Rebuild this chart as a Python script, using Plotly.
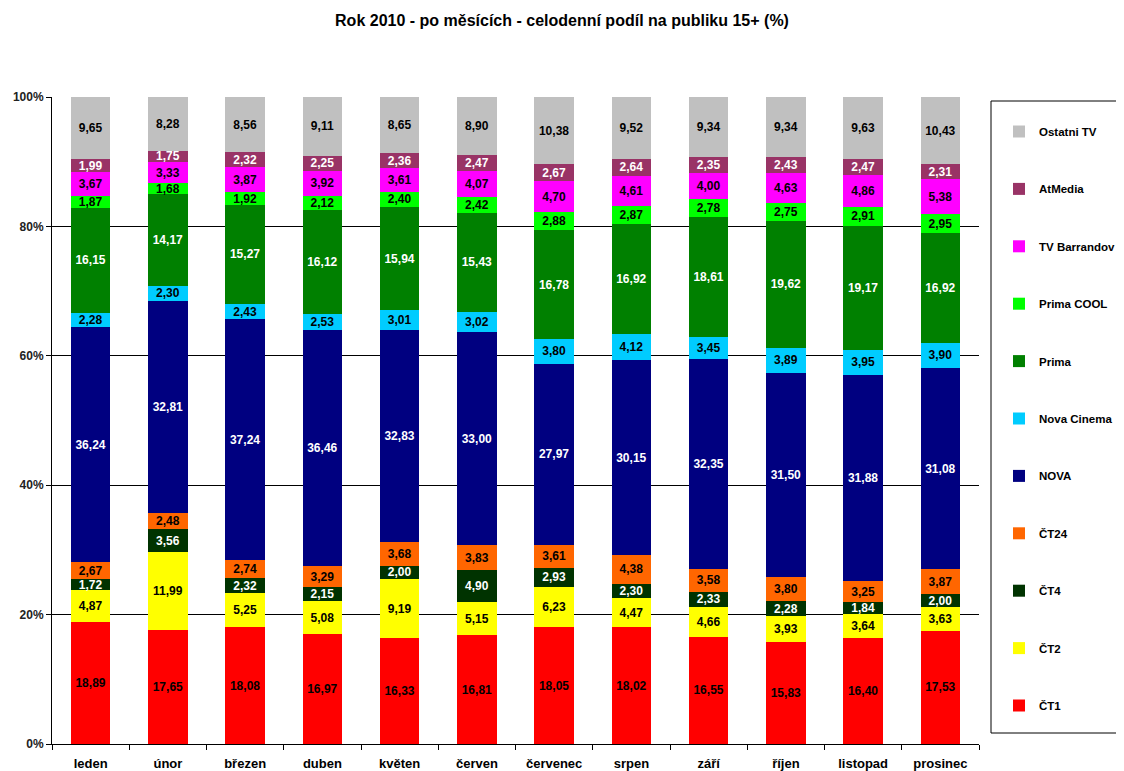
import plotly.graph_objects as go

months = ["leden", "únor", "březen", "duben", "květen", "červen", "červenec",
          "srpen", "září", "říjen", "listopad", "prosinec"]

ct1 = [18.89, 17.65, 18.08, 16.97, 16.33, 16.81, 18.05, 18.02, 16.55, 15.83, 16.40, 17.53]
ct2 = [4.87, 11.99, 5.25, 5.08, 9.19, 5.15, 6.23, 4.47, 4.66, 3.93, 3.64, 3.63]
ct4 = [1.72, 3.56, 2.32, 2.15, 2.00, 4.90, 2.93, 2.30, 2.33, 2.28, 1.84, 2.00]
ct24 = [2.67, 2.48, 2.74, 3.29, 3.68, 3.83, 3.61, 4.38, 3.58, 3.80, 3.25, 3.87]
nova = [36.24, 32.81, 37.24, 36.46, 32.83, 33.00, 27.97, 30.15, 32.35, 31.50, 31.88, 31.08]
nova_cinema = [2.28, 2.30, 2.43, 2.53, 3.01, 3.02, 3.80, 4.12, 3.45, 3.89, 3.95, 3.90]
prima = [16.15, 14.17, 15.27, 16.12, 15.94, 15.43, 16.78, 16.92, 18.61, 19.62, 19.17, 16.92]
prima_cool = [1.87, 1.68, 1.92, 2.12, 2.40, 2.42, 2.88, 2.87, 2.78, 2.75, 2.91, 2.95]
barrandov = [3.67, 3.33, 3.87, 3.92, 3.61, 4.07, 4.70, 4.61, 4.00, 4.63, 4.86, 5.38]
atmedia = [1.99, 1.75, 2.32, 2.25, 2.36, 2.47, 2.67, 2.64, 2.35, 2.43, 2.47, 2.31]
ostatni = [9.65, 8.28, 8.56, 9.11, 8.65, 8.90, 10.38, 9.52, 9.34, 9.34, 9.63, 10.43]

series = [
    ("ČT1", ct1, "#FF0000", "black"),
    ("ČT2", ct2, "#FFFF00", "black"),
    ("ČT4", ct4, "#003300", "white"),
    ("ČT24", ct24, "#FF6600", "black"),
    ("NOVA", nova, "#000080", "white"),
    ("Nova Cinema", nova_cinema, "#00CCFF", "black"),
    ("Prima", prima, "#008000", "white"),
    ("Prima COOL", prima_cool, "#00FF00", "black"),
    ("TV Barrandov", barrandov, "#FF00FF", "black"),
    ("AtMedia", atmedia, "#993366", "white"),
    ("Ostatni TV", ostatni, "#C0C0C0", "black"),
]

FONT = "Liberation Sans, Arial, sans-serif"

# layout geometry (figure pixels; page adds an 8px body margin)
W, H = 1124, 771
L, R, T, B = 44, 153, 89, 35
PW, PH = W - L - R, H - T - B

def px_x(x):
    return (x - L) / PW

def px_y(y):
    return (H - B - y) / PH

fig = go.Figure()
n = len(series)
for i, (name, vals, color, tcolor) in enumerate(series):
    fig.add_trace(go.Bar(
        x=months, y=vals, name=name, legendgroup=name, legendrank=n - i,
        marker=dict(color=color, line=dict(width=0)),
        text=[f"{v:.2f}".replace(".", ",") for v in vals],
        textposition="inside", insidetextanchor="middle", textangle=0,
        constraintext="none",
        textfont=dict(family=FONT, size=12, color=tcolor, weight="bold"),
        hoverinfo="skip",
    ))

# legend frame: open on the right (it runs off the page in the original)
bx0, bx1 = px_x(983), px_x(1200)
by0, by1 = px_y(725), px_y(93)
frame_path = f"M {bx1} {by1} L {bx0} {by1} L {bx0} {by0} L {bx1} {by0}"

fig.update_layout(
    barmode="stack", barnorm="percent", bargap=0.49,
    width=W, height=H,
    paper_bgcolor="white", plot_bgcolor="white",
    margin=dict(l=L, r=R, t=T, b=B, autoexpand=False),
    title=dict(text="<b>Rok 2010 - po měsících - celodenní podíl na publiku 15+ (%)</b>",
               x=554 / W, xref="container", xanchor="center",
               y=1 - 12 / H, yref="container", yanchor="middle",
               font=dict(family=FONT, size=16, color="black")),
    font=dict(family=FONT, color="black"),
    showlegend=True,
    legend=dict(
        x=px_x(991), xanchor="left", y=px_y(109), yanchor="top",
        traceorder="grouped", tracegroupgap=38.4,
        borderwidth=0, bgcolor="rgba(0,0,0,0)",
        font=dict(family=FONT, size=11.5, color="black", weight="bold"),
        itemwidth=30,
    ),
    shapes=[dict(type="path", xref="paper", yref="paper", path=frame_path,
                 line=dict(color="black", width=1))],
)

fig.update_yaxes(
    range=[0, 100], tickvals=[0, 20, 40, 60, 80, 100],
    ticktext=["0%", "20%", "40%", "60%", "80%", "100%"],
    showgrid=True, gridcolor="black", gridwidth=1,
    showline=True, linecolor="black", linewidth=1,
    ticks="outside", ticklen=5, tickcolor="black",
    tickfont=dict(family=FONT, size=12, color="#222", weight="bold"),
    zeroline=False, automargin=False,
)
fig.update_xaxes(
    showline=True, linecolor="black", linewidth=1,
    ticks="outside", ticklen=5, tickcolor="black", tickson="boundaries",
    ticklabelstandoff=7, automargin=False,
    tickfont=dict(family=FONT, size=13, color="black", weight="bold"),
)

fig.write_html("out.html")
